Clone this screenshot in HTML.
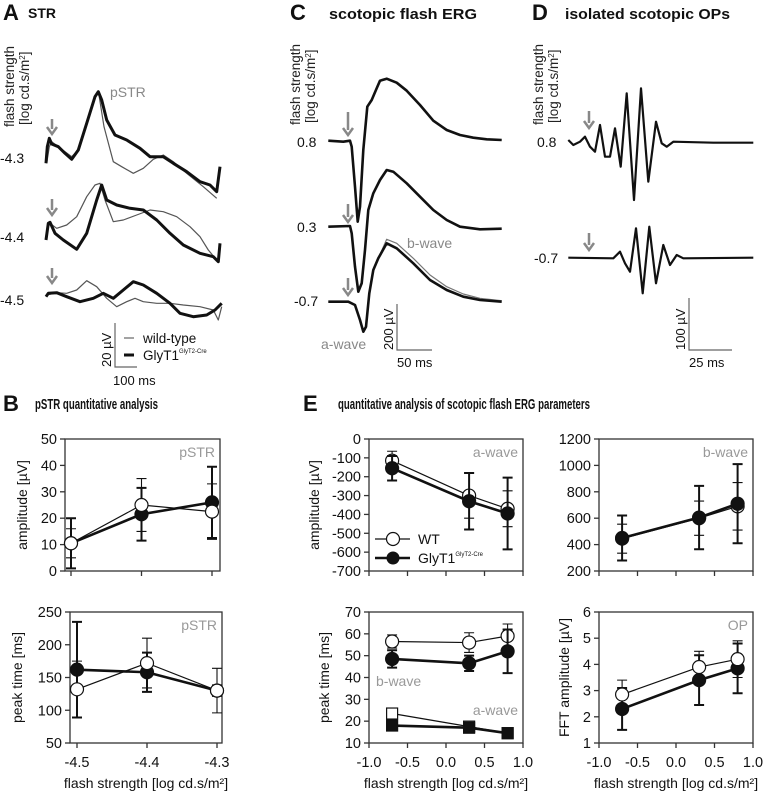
<!DOCTYPE html>
<html><head><meta charset="utf-8"><style>
body{margin:0;background:#fff}
svg{display:block;font-family:"Liberation Sans",sans-serif}
</style></head><body>
<svg id="fig" width="767" height="798" viewBox="0 0 767 798" xmlns="http://www.w3.org/2000/svg">
<g id="titles" font-weight="bold" fill="#111">
<text x="3" y="20" font-size="22">A</text>
<text x="28" y="18" font-size="14">STR</text>
<text x="290" y="20" font-size="22">C</text>
<text x="329" y="19" font-size="15" textLength="148" lengthAdjust="spacingAndGlyphs">scotopic flash ERG</text>
<text x="532" y="20" font-size="22">D</text>
<text x="565" y="19" font-size="15" textLength="165" lengthAdjust="spacingAndGlyphs">isolated scotopic OPs</text>
<text x="3" y="411" font-size="22">B</text>
<text x="35" y="409" font-size="15" textLength="123" lengthAdjust="spacingAndGlyphs">pSTR quantitative analysis</text>
<text x="303" y="411" font-size="22">E</text>
<text x="338" y="409" font-size="15" textLength="252" lengthAdjust="spacingAndGlyphs">quantitative analysis of scotopic flash ERG parameters</text>
</g>
<g id="traces"></g>
<g id="charts"></g>
</svg>
<script>
// ---------- chart data ----------
const pstrX = [-4.5, -4.4, -4.3];
const ergX = [-0.7, 0.3, 0.8];
const pstrAmpWT = [10.5, 25, 22.5];
const pstrAmpWTErr = [5.5, 10, 10.5];
const pstrAmpKO = [10.5, 21.5, 26];
const pstrAmpKOErr = [9.5, 10, 13.5];
const pstrTimeWT = [132, 172, 130];
const pstrTimeWTErr = [43, 38, 34];
const pstrTimeKO = [162, 158, 130];
const pstrTimeKOErr = [73, 30, 8];
const aAmpWT = [-115, -300, -370];
const aAmpWTErr = [50, 120, 95];
const aAmpKO = [-155, -330, -395];
const aAmpKOErr = [65, 150, 190];
const bAmpWT = [445, 600, 690];
const bAmpWTErr = [110, 130, 180];
const bAmpKO = [450, 605, 710];
const bAmpKOErr = [170, 240, 300];
const bTimeWT = [56.5, 56, 59];
const bTimeWTErr = [3, 4.5, 5.5];
const bTimeKO = [48.5, 46.5, 52];
const bTimeKOErr = [4, 3.5, 10];
const aTimeWT = [23.5, 17.5, 14.5];
const aTimeKO = [18, 17, 14.5];
const opWT = [2.85, 3.9, 4.2];
const opWTErr = [0.55, 0.6, 0.7];
const opKO = [2.3, 3.4, 3.85];
const opKOErr = [0.8, 0.95, 0.95];
const pstrTicks = [-4.5, -4.4, -4.3];
const ergTicks = [-1.0, -0.5, 0.0, 0.5, 1.0];

const NS = "http://www.w3.org/2000/svg";
function mk(tag, attrs, parent) {
  const e = document.createElementNS(NS, tag);
  for (const k in attrs) e.setAttribute(k, attrs[k]);
  parent.appendChild(e);
  return e;
}
const charts = document.getElementById('charts');
const traces = document.getElementById('traces');

function lin(d0, d1, r0, r1) { return v => r0 + (v - d0) / (d1 - d0) * (r1 - r0); }

function panel(name, box, xs, ys, yTicks, xTicks, xFmt, ylabel, showX, tag) {
  const g = mk('g', {}, charts);
  
  
  const fr = mk('rect', {x: box.l, y: box.t, width: box.r - box.l, height: box.b - box.t, fill: 'none', stroke: '#333', 'stroke-width': 1.3}, g);
  
  
  yTicks.forEach(v => {
    const y = ys(v);
    mk('line', {x1: box.l - 5, x2: box.l, y1: y, y2: y, stroke: '#333', 'stroke-width': 1.3}, g);
    const t = mk('text', {x: box.l - 8, y: y + 5, 'font-size': 14.5, 'text-anchor': 'end', fill: '#111'}, g);
    t.textContent = v;
    
    
  });
  xTicks.forEach(v => {
    const x = xs(v);
    mk('line', {x1: x, x2: x, y1: box.b, y2: box.b + 5, stroke: '#333', 'stroke-width': 1.3}, g);
    if (showX) {
      const t = mk('text', {x: x, y: box.b + 24, 'font-size': 14.5, 'text-anchor': 'middle', fill: '#111'}, g);
      t.textContent = xFmt(v);
      
      
    }
  });
  const cy = (box.t + box.b) / 2, lx = box.l - (ylabel.off || 40);
  const yl = mk('text', {x: lx, y: cy, 'font-size': 14, 'text-anchor': 'middle', fill: '#111', transform: `rotate(-90 ${lx} ${cy})`}, g);
  yl.textContent = ylabel.text;
  
  
  if (showX) {
    const xl = mk('text', {x: (box.l + box.r) / 2, y: box.b + 45, 'font-size': 14, 'text-anchor': 'middle', fill: '#111'}, g);
    xl.textContent = 'flash strength [log cd.s/m²]';
    
    
  }
  if (tag) {
    const tt = mk('text', {x: box.r - 5, y: box.t + 18, 'font-size': 14, 'text-anchor': 'end', fill: '#999'}, g);
    tt.textContent = tag;
    
    
  }
  return g;
}

function series(g, xs, ys, X, Y, E, wt, shape, name) {
  const sg = mk('g', {}, g);
  
  
  const sw = wt ? 1.2 : 2.6;
  if (E) X.forEach((x, i) => {
    const px = xs(x), y0 = ys(Y[i] - E[i]), y1 = ys(Y[i] + E[i]);
    const eb = mk('path', {d: `M${px},${y0}V${y1}M${px-5},${y0}H${px+5}M${px-5},${y1}H${px+5}`, stroke: '#111', 'stroke-width': wt ? 1.1 : 2, fill: 'none'}, sg);
    
    
  });
  const d = X.map((x, i) => (i ? 'L' : 'M') + xs(x) + ',' + ys(Y[i])).join('');
  const ln = mk('path', {d: d, stroke: '#111', 'stroke-width': sw, fill: 'none'}, sg);
  
  
  X.forEach((x, i) => {
    let m;
    if (shape === 'sq') m = mk('rect', {x: xs(x) - 5.5, y: ys(Y[i]) - 5.5, width: 11, height: 11, fill: wt ? '#fff' : '#111', stroke: '#111', 'stroke-width': 1.2}, sg);
    else m = mk('circle', {cx: xs(x), cy: ys(Y[i]), r: 6.5, fill: wt ? '#fff' : '#111', stroke: '#111', 'stroke-width': 1.2}, sg);
    
    
  });
}

// B1 pSTR amplitude
let box = {l: 65, r: 220, t: 439, b: 571};
let xs = lin(-4.5, -4.3, 71, 212), ys = lin(0, 50, 571, 439);
let g = panel('pstr-amplitude-chart', box, xs, ys, [0,10,20,30,40,50], pstrTicks, v => v.toFixed(1), {text: 'amplitude [µV]', off: 38}, false, 'pSTR');
series(g, xs, ys, pstrX, pstrAmpWT, pstrAmpWTErr, true, 'c', 'wt-series');
series(g, xs, ys, pstrX, pstrAmpKO, pstrAmpKOErr, false, 'c', 'glyt1-series');
g.appendChild(g.lastChild.previousSibling);
// B2 pSTR peak time
box = {l: 70, r: 222, t: 612, b: 743};
xs = lin(-4.5, -4.3, 77, 217); ys = lin(50, 250, 743, 612);
g = panel('pstr-peak-time-chart', box, xs, ys, [50,100,150,200,250], pstrTicks, v => v.toFixed(1), {text: 'peak time [ms]', off: 48}, true, 'pSTR');
series(g, xs, ys, pstrX, pstrTimeKO, pstrTimeKOErr, false, 'c', 'glyt1-series');
series(g, xs, ys, pstrX, pstrTimeWT, pstrTimeWTErr, true, 'c', 'wt-series');
// E1 a-wave amplitude
box = {l: 369, r: 523, t: 439, b: 571};
xs = lin(-1, 1, 369, 523); ys = lin(-700, 0, 571, 439);
g = panel('a-wave-amplitude-chart', box, xs, ys, [0,-100,-200,-300,-400,-500,-600,-700], ergTicks, v => v.toFixed(1), {text: 'amplitude [µV]', off: 50}, false, 'a-wave');
series(g, xs, ys, ergX, aAmpWT, aAmpWTErr, true, 'c', 'wt-series');
series(g, xs, ys, ergX, aAmpKO, aAmpKOErr, false, 'c', 'glyt1-series');
// legend
const lg = mk('g', {}, g);


mk('line', {x1: 375, x2: 410, y1: 539, y2: 539, stroke: '#111', 'stroke-width': 1.2}, lg);
mk('circle', {cx: 393, cy: 539, r: 6.5, fill: '#fff', stroke: '#111', 'stroke-width': 1.2}, lg);
let lt = mk('text', {x: 418, y: 544, 'font-size': 14, fill: '#111'}, lg); lt.textContent = 'WT';


mk('line', {x1: 375, x2: 410, y1: 558, y2: 558, stroke: '#111', 'stroke-width': 2.6}, lg);
mk('circle', {cx: 393, cy: 558, r: 6.5, fill: '#111'}, lg);
lt = mk('text', {x: 418, y: 563, 'font-size': 14, fill: '#111'}, lg); lt.innerHTML = 'GlyT1<tspan font-size="6" dy="-7">GlyT2-Cre</tspan>';


// E2 b-wave amplitude
box = {l: 599, r: 753, t: 439, b: 571};
xs = lin(-1, 1, 599, 753); ys = lin(200, 1200, 571, 439);
g = panel('b-wave-amplitude-chart', box, xs, ys, [200,400,600,800,1000,1200], ergTicks, v => v.toFixed(1), {text: '', off: 50}, false, 'b-wave');
series(g, xs, ys, ergX, bAmpWT, bAmpWTErr, true, 'c', 'wt-series');
series(g, xs, ys, ergX, bAmpKO, bAmpKOErr, false, 'c', 'glyt1-series');
// E3 peak times
box = {l: 369, r: 523, t: 612, b: 743};
xs = lin(-1, 1, 369, 523); ys = lin(10, 70, 743, 612);
g = panel('erg-peak-time-chart', box, xs, ys, [10,20,30,40,50,60,70], ergTicks, v => v.toFixed(1), {text: 'peak time [ms]', off: 40}, true, null);
series(g, xs, ys, ergX, bTimeWT, bTimeWTErr, true, 'c', 'wt-b-wave-series');
series(g, xs, ys, ergX, bTimeKO, bTimeKOErr, false, 'c', 'glyt1-b-wave-series');
series(g, xs, ys, ergX, aTimeWT, null, true, 'sq', 'wt-a-wave-series');
series(g, xs, ys, ergX, aTimeKO, null, false, 'sq', 'glyt1-a-wave-series');
let tg = mk('text', {x: 376, y: 686, 'font-size': 14, fill: '#999'}, g); tg.textContent = 'b-wave';
 
tg = mk('text', {x: 518, y: 715, 'font-size': 14, fill: '#999', 'text-anchor': 'end'}, g); tg.textContent = 'a-wave';
 
// E4 OP
box = {l: 599, r: 753, t: 612, b: 743};
xs = lin(-1, 1, 599, 753); ys = lin(1, 6, 743, 612);
g = panel('op-amplitude-chart', box, xs, ys, [1,2,3,4,5,6], ergTicks, v => v.toFixed(1), {text: 'FFT amplitude [µV]', off: 30}, true, 'OP');
series(g, xs, ys, ergX, opKO, opKOErr, false, 'c', 'glyt1-series');
series(g, xs, ys, ergX, opWT, opWTErr, true, 'c', 'wt-series');

// ---------- traces (waveforms, zoom coords ox + zx/3) ----------
function trace(pts, ox, w, col, name) {
  const d = pts.map((p, i) => (i ? 'L' : 'M') + (ox + p[0] / 3).toFixed(1) + ',' + (p[1] / 3).toFixed(1)).join('');
  const e = mk('path', {d: d, stroke: col, 'stroke-width': w, fill: 'none', 'stroke-linejoin': 'round'}, traces);
  
  
}
// Panel A
trace([[140,490],[148,440],[155,425],[175,440],[195,455],[215,470],[235,450],[260,370],[285,290],[296,280],[312,380],[340,485],[365,500],[400,520],[430,505],[460,478],[490,465],[520,485],[560,520],[610,560],[650,595]], 0, 1.2, '#555', 'wt-trace-minus-4-3');
trace([[138,490],[142,440],[148,415],[155,432],[175,440],[195,460],[215,478],[235,450],[260,370],[285,290],[295,275],[305,300],[320,360],[345,405],[380,420],[420,445],[450,470],[490,470],[520,490],[560,515],[600,545],[630,555],[650,575],[660,500]], 0, 3, '#111', 'glyt1-trace-minus-4-3');
trace([[140,690],[150,670],[170,685],[200,675],[230,650],[260,590],[285,555],[300,550],[315,600],[340,665],[370,660],[410,645],[450,630],[490,635],[530,650],[570,680],[600,710],[625,750],[650,780]], 0, 1.2, '#555', 'wt-trace-minus-4-4');
trace([[138,720],[145,670],[150,667],[165,700],[190,720],[230,748],[260,700],[290,600],[305,555],[320,600],[350,615],[390,625],[430,630],[470,660],[510,700],[550,735],[600,760],[640,770],[655,785],[660,730]], 0, 3, '#111', 'glyt1-trace-minus-4-4');
trace([[140,885],[170,878],[200,880],[230,870],[260,842],[290,860],[320,895],[350,920],[380,905],[405,895],[430,905],[470,910],[510,910],[550,915],[600,920],[640,930],[655,960],[665,920]], 0, 1.2, '#555', 'wt-trace-minus-4-5');
trace([[138,890],[145,880],[170,878],[200,890],[240,905],[280,895],[310,880],[340,895],[370,870],[400,845],[430,855],[470,880],[510,910],[540,940],[580,950],[620,945],[645,930],[665,910]], 0, 3, '#111', 'glyt1-trace-minus-4-5');
// Panel C
trace([[145,422],[190,425],[210,422],[215,440],[225,560],[233,665],[240,620],[250,450],[262,320],[275,300],[290,265],[300,242],[320,236],[350,248],[380,272],[420,315],[460,362],[500,390],[540,405],[580,413],[620,418],[665,420]], 280, 2.6, '#111', 'erg-trace-0-8');
trace([[145,680],[210,678],[215,700],[225,800],[235,875],[245,850],[255,750],[265,630],[280,580],[300,540],[320,510],[340,515],[380,550],[420,590],[460,630],[500,660],[540,680],[600,688],[665,686]], 280, 2.6, '#111', 'erg-trace-0-3');
trace([[205,905],[225,915],[240,960],[250,995],[258,980],[268,880],[280,810],[295,775],[320,718],[350,730],[400,775],[450,825],[500,860],[550,882],[600,895],[665,902]], 280, 1.2, '#777', 'wt-erg-trace-minus-0-7');
trace([[145,905],[205,905],[225,915],[240,960],[250,995],[258,980],[268,880],[280,810],[295,775],[320,730],[350,745],[400,790],[450,840],[500,870],[550,890],[600,900],[665,905]], 280, 2.6, '#111', 'erg-trace-minus-0-7');
// Panel D
trace([[865,420],[880,435],[900,425],[915,410],[930,440],[945,455],[960,375],[975,470],[990,470],[1005,385],[1022,500],[1040,280],[1062,600],[1083,265],[1105,545],[1128,365],[1145,430],[1160,440],[1180,425],[1300,428],[1420,428]], 280, 2.2, '#111', 'op-trace-0-8');
trace([[865,773],[1000,775],[1020,755],[1035,790],[1050,815],[1068,685],[1088,880],[1108,680],[1128,850],[1150,735],[1170,795],[1190,765],[1210,775],[1420,773]], 280, 2.2, '#111', 'op-trace-minus-0-7');

// arrows
function arrow(x, y0, y1, name) {
  const e = mk('path', {d: `M${x},${y0}V${y1-5}M${x-5},${y1-7}L${x},${y1}L${x+5},${y1-7}`, stroke: '#888', 'stroke-width': 2.5, fill: 'none'}, traces);
  
  
}
arrow(52, 119, 134, 'flash-arrow'); arrow(52, 199, 215, 'flash-arrow'); arrow(52, 268, 283, 'flash-arrow');
arrow(348, 112, 135, 'flash-arrow'); arrow(348, 204, 222, 'flash-arrow'); arrow(348, 278, 295, 'flash-arrow');
arrow(589, 111, 128, 'flash-arrow'); arrow(589, 233, 250, 'flash-arrow');

function txt(x, y, s, size, col, name, anchor, rot) {
  const a = {x: x, y: y, 'font-size': size, fill: col};
  if (anchor) a['text-anchor'] = anchor;
  if (rot) a.transform = `rotate(-90 ${x} ${y})`;
  const e = mk('text', a, traces);
  e.innerHTML = s;
  
  
}
// y titles
[[14, 127], [300, 125], [543, 125]].forEach(p => {
  txt(p[0], p[1], 'flash strength', 13.5, '#222', 'y-axis-title-line1', null, true);
  txt(p[0] + 15, p[1] - 2, '[log cd.s/m<tspan font-size="8" dy="-4">2</tspan><tspan dy="4">]</tspan>', 13.5, '#222', 'y-axis-title-line2', null, true);
});
txt(0, 163, '-4.3', 14, '#111', 'trace-label'); txt(0, 242, '-4.4', 14, '#111', 'trace-label'); txt(0, 305, '-4.5', 14, '#111', 'trace-label');
txt(297, 147, '0.8', 14, '#111', 'trace-label'); txt(297, 232, '0.3', 14, '#111', 'trace-label'); txt(294, 306, '-0.7', 14, '#111', 'trace-label');
txt(537, 147, '0.8', 14, '#111', 'trace-label'); txt(534, 263, '-0.7', 14, '#111', 'trace-label');
txt(110, 97, 'pSTR', 14, '#888', 'pstr-tag');
txt(407, 248, 'b-wave', 14, '#888', 'b-wave-tag');
txt(321, 349, 'a-wave', 14, '#888', 'a-wave-tag');
// scale bars
const sb = d => { const e = mk('path', {d: d, stroke: '#666', 'stroke-width': 1.2, fill: 'none'}, traces);   };
sb('M115,323V367H137'); sb('M397,304V350H432'); sb('M689,298V350H732');
txt(111, 367, '20 µV', 13, '#111', 'scale-label-uv', null, true);
txt(113, 385, '100 ms', 13, '#111', 'scale-label-ms');
txt(393, 350, '200 µV', 13, '#111', 'scale-label-uv', null, true);
txt(397, 367, '50 ms', 13, '#111', 'scale-label-ms');
txt(685, 350, '100 µV', 13, '#111', 'scale-label-uv', null, true);
txt(689, 367, '25 ms', 13, '#111', 'scale-label-ms');
// panel A legend
const l1 = mk('line', {x1: 124, x2: 134, y1: 338, y2: 338, stroke: '#666', 'stroke-width': 1.2}, traces);
 
const l2 = mk('line', {x1: 124, x2: 134, y1: 355, y2: 355, stroke: '#111', 'stroke-width': 3}, traces);
 
txt(143, 343, 'wild-type', 13.5, '#111', 'legend-entry-wt');
txt(143, 360, 'GlyT1<tspan font-size="6" dy="-7">GlyT2-Cre</tspan>', 13.5, '#111', 'legend-entry-glyt1');
</script>
</body></html>
